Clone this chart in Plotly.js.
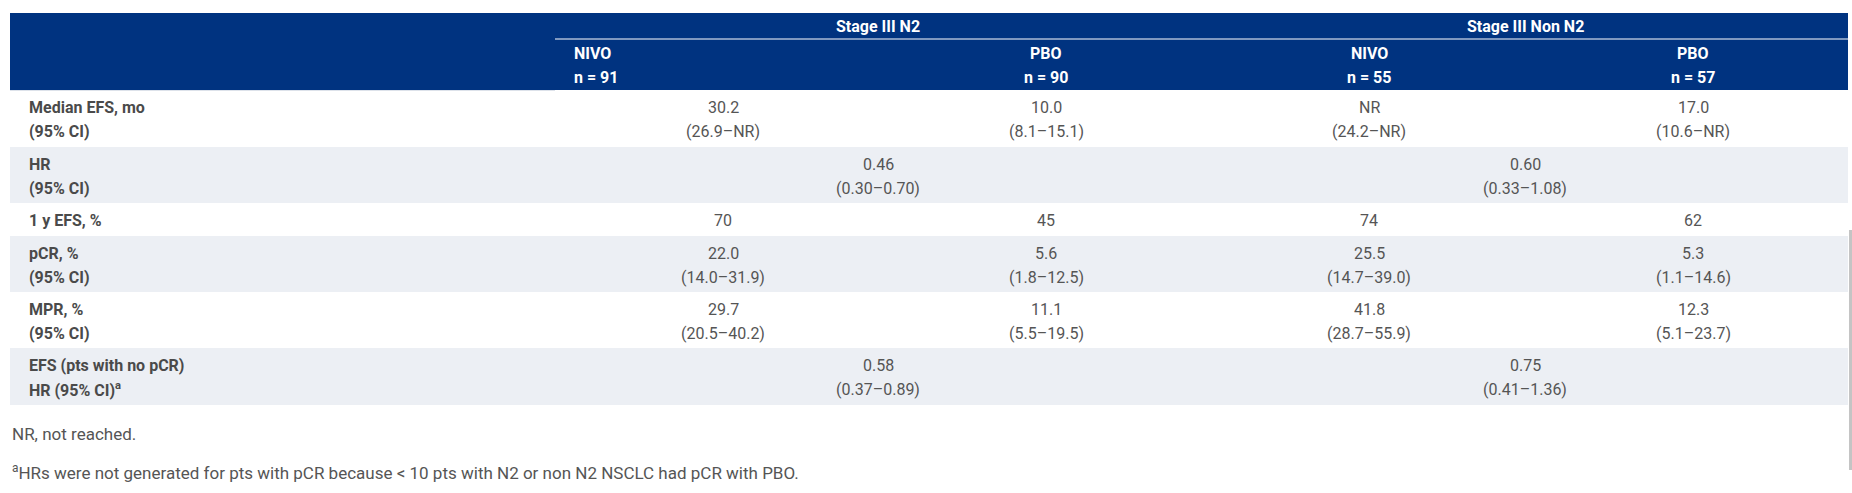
<!DOCTYPE html>
<html><head><meta charset="utf-8">
<script src="https://cdn.plot.ly/plotly-3.0.1.min.js"></script>
<style>html,body{margin:0;padding:0;background:#fff;overflow:hidden}</style>
</head><body><div id="chart" style="width:1852px;height:493px"></div>
<script>
// ---------- data ----------
const groups = ['Stage III N2', 'Stage III Non N2'];
const arms = ['NIVO', 'PBO', 'NIVO', 'PBO'];
const armN = [91, 90, 55, 57];
const rowLabels = [
  ['Median EFS, mo', '(95% CI)'],
  ['HR', '(95% CI)'],
  ['1 y EFS, %'],
  ['pCR, %', '(95% CI)'],
  ['MPR, %', '(95% CI)'],
  ['EFS (pts with no pCR)', 'HR (95% CI)<sup>a</sup>']
];
const medianEFS   = ['30.2', '10.0', 'NR', '17.0'];
const medianEFSCI = ['26.9–NR', '8.1–15.1', '24.2–NR', '10.6–NR'];
const hrEFS       = ['0.46', '0.60'];
const hrEFSCI     = ['0.30–0.70', '0.33–1.08'];
const efs1y       = ['70', '45', '74', '62'];
const pcrPct      = ['22.0', '5.6', '25.5', '5.3'];
const pcrCI       = ['14.0–31.9', '1.8–12.5', '14.7–39.0', '1.1–14.6'];
const mprPct      = ['29.7', '11.1', '41.8', '12.3'];
const mprCI       = ['20.5–40.2', '5.5–19.5', '28.7–55.9', '5.1–23.7'];
const hrNoPcr     = ['0.58', '0.75'];
const hrNoPcrCI   = ['0.37–0.89', '0.41–1.36'];
const footnotes = [
  'NR, not reached.',
  '<sup>a</sup>HRs were not generated for pts with pCR because &lt; 10 pts with N2 or non N2 NSCLC had pCR with PBO.'
];

// rows: per-arm (4 values) or per-group (2 values, spanning both arms)
const rows = [
  {vals: medianEFS, ci: medianEFSCI},
  {vals: hrEFS, ci: hrEFSCI},
  {vals: efs1y, ci: null},
  {vals: pcrPct, ci: pcrCI},
  {vals: mprPct, ci: mprCI},
  {vals: hrNoPcr, ci: hrNoPcrCI}
];

// ---------- layout geometry ----------
const W = 1852, H = 493;
const left = 10, right = 1848;
const headTop = 13, headBot = 90, sepY = 39, sepX = 555;
const rowTop = [90, 147, 203, 236, 292, 348];
const rowBot = [147, 203, 236, 292, 348, 405];
const colX = [723, 1046, 1369, 1693];
const groupX = [878, 1525];
const armHeadX = [572, 1046, 1369, 1693];
const armHeadAnchor = ['left', 'center', 'center', 'center'];
const labelX = 27;
const headBlue = '#003380';
const stripe = '#ECEFF4';
const labelColor = '#4a4a4a';
const valColor = '#555555';
const FONT = 'Roboto, "Noto Sans", Arial, sans-serif';

const shapes = [];
const ann = [];

// header background
shapes.push({type: 'rect', xref: 'x', yref: 'y', x0: left, x1: right, y0: headTop, y1: headBot,
  fillcolor: headBlue, line: {width: 0}, layer: 'below'});
shapes.push({type: 'line', xref: 'x', yref: 'y', x0: sepX, x1: right, y0: sepY, y1: sepY,
  line: {color: '#ffffff', width: 1}});
shapes.push({type: 'line', xref: 'x', yref: 'y', x0: left, x1: sepX, y0: headBot + 0.5, y1: headBot + 0.5,
  line: {color: '#dde2ea', width: 1}});

// striped rows
rows.forEach((r, i) => {
  if (i % 2 === 1) {
    shapes.push({type: 'rect', xref: 'x', yref: 'y', x0: left, x1: right, y0: rowTop[i], y1: rowBot[i],
      fillcolor: stripe, line: {width: 0}, layer: 'below'});
  }
});
// scrollbar-like gray bar at right edge
shapes.push({type: 'rect', xref: 'x', yref: 'y', x0: 1849, x1: 1852, y0: 230, y1: 470,
  fillcolor: '#c4c4c4', line: {width: 0}});

function txt(x, y, text, opts) {
  ann.push(Object.assign({
    xref: 'x', yref: 'y', x: x, y: y, text: text, showarrow: false,
    xanchor: 'center', yanchor: 'middle',
    font: {family: FONT, size: 16, color: valColor}
  }, opts || {}));
}

// header texts
groups.forEach((g, i) => txt(groupX[i], 26, '<b>' + g + '</b>', {font: {family: FONT, size: 16, color: '#ffffff'}}));
arms.forEach((a, i) => {
  txt(armHeadX[i], 53, '<b>' + a + '</b>', {xanchor: armHeadAnchor[i], font: {family: FONT, size: 16, color: '#ffffff'}});
  txt(armHeadX[i], 77, '<b>n = ' + armN[i] + '</b>', {xanchor: armHeadAnchor[i], font: {family: FONT, size: 16, color: '#ffffff'}});
});

// body
rows.forEach((r, i) => {
  const y1 = rowTop[i] + 17, y2 = rowTop[i] + 41;
  const lab = rowLabels[i];
  txt(labelX, y1, '<b>' + lab[0] + '</b>', {xanchor: 'left', font: {family: FONT, size: 16, color: labelColor}});
  if (lab[1]) txt(labelX, y2, '<b>' + lab[1] + '</b>', {xanchor: 'left', font: {family: FONT, size: 16, color: labelColor}});
  const xs = r.vals.length === 4 ? colX : groupX;
  r.vals.forEach((v, j) => {
    txt(xs[j], y1, v);
    if (r.ci) txt(xs[j], y2, '(' + r.ci[j] + ')');
  });
});

// footnotes
txt(left, 434, footnotes[0], {xanchor: 'left', font: {family: FONT, size: 17, color: valColor}});
txt(left, 472, footnotes[1], {xanchor: 'left', font: {family: FONT, size: 17, color: valColor}});

const layout = {
  width: W, height: H,
  margin: {l: 0, r: 0, t: 0, b: 0, pad: 0},
  paper_bgcolor: '#ffffff', plot_bgcolor: '#ffffff',
  xaxis: {range: [0, W], visible: false, fixedrange: true},
  yaxis: {range: [H, 0], visible: false, fixedrange: true},
  shapes: shapes, annotations: ann, showlegend: false
};
Plotly.newPlot('chart', [], layout, {displayModeBar: false, staticPlot: true});
</script></body></html>
